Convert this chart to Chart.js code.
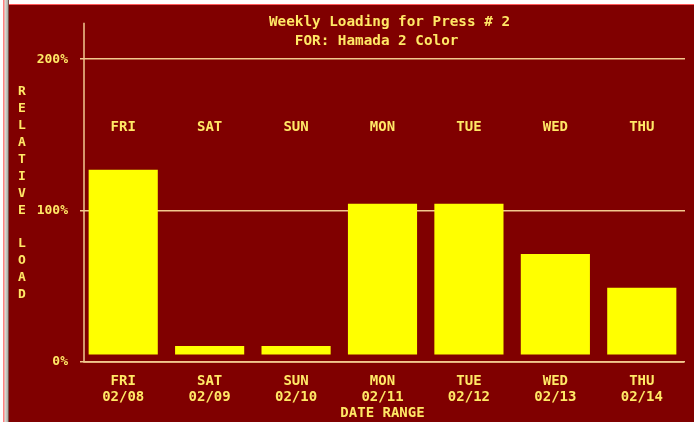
<!DOCTYPE html>
<html>
<head>
<meta charset="utf-8">
<script src="https://cdn.jsdelivr.net/npm/chart.js@4"></script>
<style>
  body { margin: 0; background: #fff; }
  #wrap { position: relative; width: 694px; height: 422px; background: #800000; overflow: hidden; }
  #wrap canvas { position: absolute; left: 0; top: 0; }
  #edgeTop { position: absolute; left: 0; top: 0; width: 694px; height: 4px; background: #fff; border-bottom: 1px solid #ff5a5a; }
  #edgeLeft { position: absolute; left: 0; top: 0; width: 9px; height: 422px;
    background: linear-gradient(to right, #fff 0, #fff 3px, #ff8080 3px, #ff8080 4px, #e0e0d8 5px, #a8a8a0 8px, #500000 9px); }
</style>
</head>
<body>
<div id="wrap">
  <canvas id="myChart" width="694" height="422"></canvas>
  <div id="edgeTop"></div>
  <div id="edgeLeft"></div>
</div>
<script>
  // data
  var days = ['FRI', 'SAT', 'SUN', 'MON', 'TUE', 'WED', 'THU'];
  var dates = ['02/08', '02/09', '02/10', '02/11', '02/12', '02/13', '02/14'];
  var loads = [127, 10.5, 10.5, 104.5, 104.5, 71.3, 49];
  var yTicks = [0, 100, 200];
  var titleLines = ['Weekly Loading for Press # 2', 'FOR: Hamada 2 Color'];
  var yTitle = 'RELATIVE LOAD';
  var xTitle = 'DATE RANGE';

  var textColor = '#ffe866';
  var lineColor = '#f2c88e';
  var barColor = '#ffff00';
  var mono = '"DejaVu Sans Mono", monospace';

  // titles, stacked y label, day names inside the plot and the axis lines
  var decor = {
    id: 'decor',
    afterDatasetsDraw: function(chart) {
      var ctx = chart.ctx;
      var area = chart.chartArea;
      var x = chart.scales.x;
      var y = chart.scales.y;
      ctx.save();

      ctx.strokeStyle = lineColor;
      ctx.lineWidth = 1.5;
      ctx.beginPath();
      ctx.moveTo(area.left + 4, area.top + 3);
      ctx.lineTo(area.left + 4, area.bottom);
      ctx.lineTo(area.right - 1, area.bottom);
      ctx.stroke();

      ctx.fillStyle = textColor;
      ctx.textBaseline = 'middle';

      ctx.font = 'bold 14.3px ' + mono;
      ctx.textAlign = 'left';
      var cw = ctx.measureText('M').width;
      ctx.fillText(titleLines[0], 269, 22);
      ctx.fillText(titleLines[1], 269 + 3 * cw, 41);

      ctx.font = 'bold 14px ' + mono;
      ctx.textAlign = 'center';
      for (var i = 0; i < days.length; i++) {
        ctx.fillText(days[i], x.getPixelForValue(i), y.getPixelForValue(155));
      }

      ctx.font = 'bold 13px ' + mono;
      for (var j = 0; j < yTitle.length; j++) {
        ctx.fillText(yTitle[j], 22, 92 + j * 16.9);
      }
      ctx.restore();
    }
  };

  var ctx = document.getElementById('myChart').getContext('2d');
  var chart = new Chart(ctx, {
      type: 'bar',
      data: {
          labels: days.map(function(d, i) { return [d, dates[i]]; }),
          datasets: [{
              data: loads,
              base: 5,
              backgroundColor: barColor,
              borderWidth: 0,
              categoryPercentage: 1,
              barPercentage: 0.8
          }]
      },
      options: {
          responsive: false,
          animation: false,
          layout: { padding: { top: 17, right: 9, left: 0, bottom: 0 } },
          plugins: { legend: { display: false }, tooltip: { enabled: false } },
          scales: {
              x: {
                  grid: { display: false },
                  border: { display: false },
                  ticks: { color: textColor, font: { family: mono, size: 14, weight: 'bold', lineHeight: '16px' }, padding: 3, maxRotation: 0, autoSkip: false },
                  title: { display: true, text: xTitle, color: textColor, font: { family: mono, size: 14, weight: 'bold' }, padding: { top: 0, bottom: 0 } },
                  afterFit: function(s) { s.height = 60; }
              },
              y: {
                  min: 0,
                  max: 226,
                  afterBuildTicks: function(s) { s.ticks = yTicks.map(function(v) { return { value: v }; }); },
                  grid: { color: lineColor, drawTicks: false, lineWidth: 1.5 },
                  border: { display: false },
                  ticks: { color: textColor, font: { family: mono, size: 13, weight: 'bold' }, padding: 12,
                      callback: function(v) { return v + '%'; } },
                  afterFit: function(s) { s.width = 80; }
              }
          }
      },
      plugins: [decor]
  });
</script>
</body>
</html>
